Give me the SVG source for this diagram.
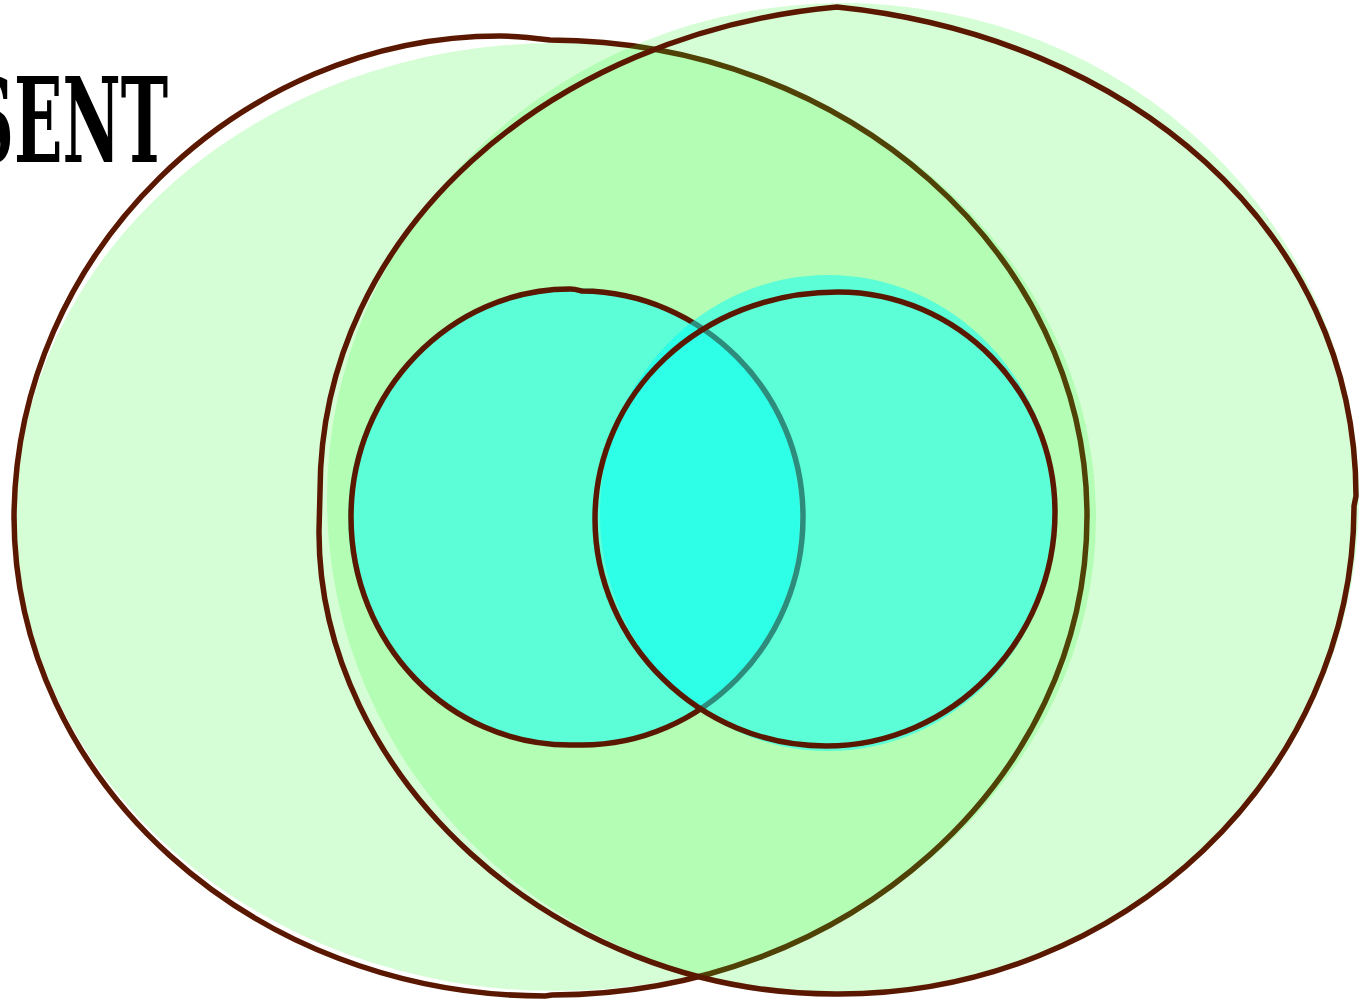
<svg xmlns="http://www.w3.org/2000/svg" width="1360" height="1001" viewBox="0 0 1360 1001">
<style>
.green{fill:#24fa24;fill-opacity:0.19;stroke:none}
.cyan{fill:#01fff7;fill-opacity:0.5;stroke:none}
.line{fill:none;stroke:#5a1800;stroke-width:5.5;stroke-linejoin:round;stroke-linecap:round}
.title{font-family:"DejaVu Serif","Liberation Serif",serif;font-weight:bold;font-size:117px;fill:#000}
</style>
<rect width="1360" height="1001" fill="#fff"/>
<text class="title" x="-32" y="162" textLength="200" lengthAdjust="spacingAndGlyphs">SENT</text>
<g id="set-left-large">
<ellipse class="green" cx="556" cy="517" rx="540" ry="474"/>
<path class="line" d="M14,520 C14,253 240,36 500,36 C520,36 535,38 550,40 C846,41 1087,253 1087,516 C1087,781 846,995 552,995 L545,996 C252,996 14,781 14,516"/>
</g>
<g id="set-right-large">
<ellipse class="green" cx="843" cy="499" rx="516" ry="496"/>
<path class="line" d="M837,7 C1128,37 1356,228 1356,496 L1354,506 C1354,773 1124,995 837,994 C552,995 318,773 319,531 L320,492 C320,230 552,33 837,7"/>
</g>
<g id="set-left-small">
<ellipse class="cyan" cx="574" cy="517" rx="226" ry="229"/>
<path class="line" d="M351,517 C351,390 452,289 570,289 C575,289 578,290 582,291 C702,292 803,392 803,517 C803,643 702,746 580,745 L570,745 C448,745 351,643 351,517"/>
</g>
<g id="set-right-small">
<ellipse class="cyan" cx="828" cy="513" rx="228" ry="238"/>
<path class="line" d="M838,292 C958,292 1055,392 1055,512 C1055,640 952,746 826,746 C700,746 595,643 595,519 C595,394 700,292 838,292"/>
</g>
<g id="connectors"/>
</svg>
